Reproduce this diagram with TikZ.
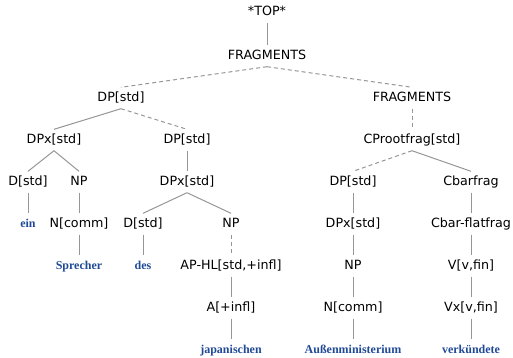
\documentclass[tikz,border=0pt]{standalone}
\usepackage{fontspec}
\setmainfont{DejaVu Sans}
\newfontfamily\termfont{Liberation Serif}
\definecolor{termblue}{RGB}{32,74,150}
\definecolor{edgegray}{RGB}{150,150,150}
\begin{document}
\begin{tikzpicture}[x=1pt,y=-1pt,
  cat/.style={inner sep=0pt,minimum height=21pt,text height=9pt,text depth=2.5pt,font=\fontsize{12.7}{14}\selectfont,text=black},
  term/.style={inner sep=0pt,minimum height=21pt,text height=9pt,text depth=2.5pt,font=\termfont\bfseries\fontsize{12}{14}\selectfont,text=termblue},
  sol/.style={draw=edgegray,line width=1pt},
  dsh/.style={draw=edgegray,line width=1pt,dash pattern=on 4pt off 3pt}]
\useasboundingbox (0,0) rectangle (513,357);
\node[cat] (t0) at (267,12.5) {*TOP*};
\node[cat] (f1) at (267,56) {FRAGMENTS};
\node[cat] (dp1) at (121,98) {DP[std]};
\node[cat] (f2) at (412,98) {FRAGMENTS};
\node[cat] (dpx1) at (54,140) {DPx[std]};
\node[cat] (dp2) at (187,140) {DP[std]};
\node[cat] (cp) at (412,140) {CProotfrag[std]};
\node[cat] (d1) at (28,182) {D[std]};
\node[cat] (np1) at (79,182) {NP};
\node[cat] (dpx2) at (187,182) {DPx[std]};
\node[cat] (dp3) at (353,182) {DP[std]};
\node[cat] (cb) at (471,182) {Cbarfrag};
\node[term] (ein) at (28,224) {ein};
\node[cat] (nc1) at (79,224) {N[comm]};
\node[cat] (d2) at (143,224) {D[std]};
\node[cat] (np2) at (231,224) {NP};
\node[cat] (dpx3) at (353,224) {DPx[std]};
\node[cat] (cbf) at (471,224) {Cbar-flatfrag};
\node[term] (spr) at (79,266) {Sprecher};
\node[term] (des) at (143,266) {des};
\node[cat] (ap) at (231,266) {AP-HL[std,+infl]};
\node[cat] (np3) at (353,266) {NP};
\node[cat] (v) at (471,266) {V[v,fin]};
\node[cat] (a) at (231,308) {A[+infl]};
\node[cat] (nc2) at (353,308) {N[comm]};
\node[cat] (vx) at (471,308) {Vx[v,fin]};
\node[term] (jap) at (231,350) {japanischen};
\node[term] (aus) at (353,350) {Außenministerium};
\node[term] (verk) at (471,350) {verkündete};
\draw[sol] (t0.south) -- (f1.north);
\draw[dsh] (f1.south) -- (dp1.north);
\draw[dsh] (f1.south) -- (f2.north);
\draw[sol] (dp1.south) -- (dpx1.north);
\draw[dsh] (dp1.south) -- (dp2.north);
\draw[dsh] (f2.south) -- (cp.north);
\draw[sol] (dpx1.south) -- (d1.north);
\draw[sol] (dpx1.south) -- (np1.north);
\draw[sol] (dp2.south) -- (dpx2.north);
\draw[dsh] (cp.south) -- (dp3.north);
\draw[sol] (cp.south) -- (cb.north);
\draw[sol] (d1.south) -- (ein.north);
\draw[sol] (np1.south) -- (nc1.north);
\draw[sol] (dpx2.south) -- (d2.north);
\draw[sol] (dpx2.south) -- (np2.north);
\draw[sol] (dp3.south) -- (dpx3.north);
\draw[sol] (cb.south) -- (cbf.north);
\draw[sol] (nc1.south) -- (spr.north);
\draw[sol] (d2.south) -- (des.north);
\draw[dsh] (np2.south) -- (ap.north);
\draw[sol] (dpx3.south) -- (np3.north);
\draw[sol] (cbf.south) -- (v.north);
\draw[sol] (ap.south) -- (a.north);
\draw[sol] (np3.south) -- (nc2.north);
\draw[sol] (v.south) -- (vx.north);
\draw[sol] (a.south) -- (jap.north);
\draw[sol] (nc2.south) -- (aus.north);
\draw[sol] (vx.south) -- (verk.north);
\end{tikzpicture}
\end{document}
